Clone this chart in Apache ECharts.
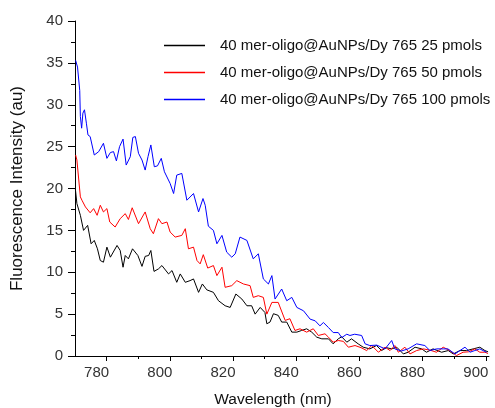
<!DOCTYPE html>
<html>
<head>
<meta charset="utf-8">
<script src="https://cdn.jsdelivr.net/npm/echarts@6/dist/echarts.min.js"></script>
<style>
html,body{margin:0;padding:0;background:#fff;}
#chart{width:495px;height:408px;}
</style>
</head>
<body>
<div id="chart"></div>
<script>
// ---- data ----
const seriesNames = [
  '40 mer-oligo@AuNPs/Dy 765 25 pmols',
  '40 mer-oligo@AuNPs/Dy 765 50 pmols',
  '40 mer-oligo@AuNPs/Dy 765 100 pmols'
];
const xMajorTicks = [780, 800, 820, 840, 860, 880, 900];
const xMinorTicks = [790, 810, 830, 850, 870, 890];

const blackX = [770.1,770.6,771.7,772.7,774.0,775.1,776.1,777.1,778.0,779.0,780.1,781.2,783.3,784.3,785.2,785.9,786.9,788.2,789.9,791.2,792.2,793.3,794.0,795.0,796.4,797.5,798.0,799.6,800.7,802.2,803.3,804.9,806.4,807.5,809.1,810.3,811.7,813.8,815.4,817.5,819.1,820.9,822.8,824.4,825.9,827.0,828.6,830.1,830.7,831.7,832.8,834.3,835.4,837.0,838.6,840.2,841.7,843.3,844.9,846.5,848.1,850.2,851.7,853.3,854.4,856.0,857.5,859.6,861.2,863.3,865.4,867.0,868.5,870.2,871.8,873.9,875.4,877.6,879.7,881.2,883.3,886.0,888.1,889.7,891.8,893.9,896.0,898.1,899.7,900.7];
const blackY = [20.0,18.2,16.8,15.0,15.6,13.4,13.8,12.8,11.4,11.2,13.0,11.8,13.2,12.6,10.6,12.0,11.6,12.8,12.0,10.7,11.9,12.0,12.6,10.1,10.4,10.8,10.6,9.8,10.2,8.8,9.8,8.8,9.0,9.2,7.6,8.6,7.9,7.6,6.6,6.0,5.8,7.4,6.8,6.0,6.0,5.0,5.8,5.2,3.85,4.05,5.05,4.85,4.05,4.05,2.85,2.85,3.05,3.25,2.85,2.25,2.05,2.05,1.45,2.05,2.3,1.65,2.05,1.45,1.05,0.85,1.25,0.65,1.0,0.85,1.05,0.25,0.45,1.05,0.85,0.45,0.85,0.45,0.65,0.25,0.65,0.65,0.85,1.05,0.65,0.5];

const redX = [770.2,770.6,771.7,772.2,773.3,774.8,775.9,777.0,778.0,779.0,780.1,781.0,782.7,784.3,785.9,786.9,788.1,790.1,792.2,793.8,794.8,796.4,797.5,799.1,800.1,801.7,803.8,804.9,805.9,807.5,808.6,809.6,810.6,812.0,813.8,814.9,816.5,817.5,819.6,821.2,823.3,825.4,826.4,828.0,829.6,830.7,832.3,834.3,836.5,838.0,839.6,841.2,843.3,845.4,847.0,849.1,850.2,851.7,853.3,854.9,856.5,858.6,860.5,862.3,863.9,866.0,868.1,869.7,871.2,872.3,874.4,876.0,878.1,880.2,882.3,884.4,886.5,888.6,890.7,892.8,894.5,896.5,898.1,899.7,900.7];
const redY = [24.0,23.4,19.0,18.6,17.8,17.1,17.6,16.8,18.0,17.2,17.6,16.0,15.4,16.4,17.0,16.3,17.7,15.8,17.2,15.2,14.6,16.4,15.8,16.0,14.8,14.2,14.4,15.2,12.8,13.0,11.4,11.0,12.1,10.5,10.8,9.6,10.6,8.2,8.4,9.0,8.6,8.4,7.0,7.2,7.0,5.0,6.4,6.4,4.25,4.45,3.05,3.25,2.85,3.25,2.45,2.65,2.25,1.65,1.85,1.75,1.05,1.25,1.0,0.65,1.25,0.45,1.05,0.65,1.25,0.45,1.05,0.25,0.65,0.85,0.7,0.45,1.05,0.65,0.05,0.45,0.5,0.85,0.45,0.45,0.3];

const blueX = [770.2,770.8,771.5,771.7,772.1,772.5,773.0,773.6,774.1,774.8,776.1,777.5,779.0,780.1,781.2,782.2,783.1,784.1,785.2,786.2,787.5,788.3,789.1,790.1,791.2,792.2,793.1,794.0,795.1,796.1,797.3,798.3,800.1,801.2,802.2,803.8,805.4,807.5,809.1,810.5,811.2,812.2,813.8,814.9,816.5,818.0,819.6,820.7,822.2,824.4,826.4,828.0,829.6,831.2,832.3,833.3,835.4,837.0,838.6,840.2,842.3,844.4,846.0,847.5,848.6,850.2,851.7,853.3,854.4,856.0,857.0,858.5,860.7,861.8,863.3,865.5,868.1,870.2,871.2,873.3,875.4,878.1,880.7,882.3,884.4,886.5,888.0,890.2,891.8,893.4,895.0,896.5,898.1,899.1,900.2];
const blueY = [35.3,34.5,31.7,28.6,27.2,29.0,29.4,27.8,26.4,26.2,24.0,24.4,25.4,23.6,24.3,24.4,23.3,25.0,25.9,22.8,23.8,26.1,26.2,24.2,23.4,22.2,23.8,25.2,22.6,22.7,23.6,22.0,20.6,19.4,21.6,21.8,18.6,19.4,17.2,18.8,18.0,15.5,15.0,13.4,14.4,12.4,11.8,12.2,14.2,13.8,11.6,12.2,9.2,8.6,9.6,6.8,8.0,6.6,7.0,5.8,5.4,4.4,4.2,3.6,4.0,3.4,2.8,2.8,2.2,2.6,2.45,2.6,2.45,1.45,1.25,1.3,0.85,1.85,0.85,0.6,0.85,1.45,1.25,0.65,0.85,0.85,0.85,0.25,0.65,1.05,0.45,0.65,0.85,0.65,0.45];

const seriesColors = ['#000000', '#ff0000', '#0000ff'];

function zip(xs, ys) { return xs.map((x, i) => [x, ys[i]]); }

const FONT = '"Liberation Sans", Arial, sans-serif';
const chart = echarts.init(document.getElementById('chart'), null, {renderer: 'canvas'});

const dataSets = [zip(blackX, blackY), zip(redX, redY), zip(blueX, blueY)];

chart.setOption({
  animation: false,
  backgroundColor: '#ffffff',
  grid: {left: 75, right: 6, top: 21, bottom: 52, containLabel: false, outerBoundsMode: 'none'},
  legend: {
    orient: 'vertical',
    left: 159,
    top: 33,
    icon: 'rect',
    itemWidth: 41,
    itemHeight: 1.5,
    itemGap: 12,
    data: seriesNames.map((n, i) => ({
      name: n,
      itemStyle: {color: seriesColors[i], opacity: 1}
    })),
    textStyle: {fontFamily: FONT, fontSize: 15, lineHeight: 15, color: '#111', padding: [0, 0, 0, 10]}
  },
  xAxis: [{
    type: 'value',
    min: 770,
    max: 901,
    name: 'Wavelength (nm)',
    nameLocation: 'middle',
    nameGap: 36,
    nameTextStyle: {fontFamily: FONT, fontSize: 15.5, color: '#111', padding: [0, 18, 0, 0]},
    axisLine: {show: true, onZero: false, lineStyle: {color: '#000', width: 1}},
    axisTick: {show: true, length: 5, customValues: xMajorTicks, lineStyle: {color: '#000'}},
    axisLabel: {customValues: xMajorTicks, margin: 9, fontFamily: FONT, fontSize: 15, color: '#333', padding: [0, 20, 0, 0]},
    splitLine: {show: false}
  }, {
    type: 'value',
    min: 770,
    max: 901,
    position: 'bottom',
    axisLine: {show: false},
    axisTick: {show: true, length: 3, customValues: xMinorTicks, lineStyle: {color: '#000'}},
    axisLabel: {show: false},
    splitLine: {show: false}
  }],
  yAxis: {
    type: 'value',
    min: 0,
    max: 40,
    interval: 5,
    name: 'Fluorescence Intensity (au)',
    nameLocation: 'middle',
    nameGap: 49,
    nameTextStyle: {fontFamily: FONT, fontSize: 17, color: '#111'},
    axisLine: {show: true, onZero: false, lineStyle: {color: '#000', width: 1}},
    axisTick: {show: true, length: 7, lineStyle: {color: '#000'}},
    minorTick: {show: true, splitNumber: 2, length: 4, lineStyle: {color: '#000'}},
    axisLabel: {margin: 12, fontFamily: FONT, fontSize: 15, color: '#333'},
    splitLine: {show: false},
    minorSplitLine: {show: false}
  },
  series: dataSets.map((d, i) => ({
    name: seriesNames[i],
    type: 'line',
    xAxisIndex: 0,
    data: d,
    symbol: 'none',
    color: seriesColors[i],
    lineStyle: {color: seriesColors[i], width: 1},
    itemStyle: {color: seriesColors[i]}
  }))
});
</script>
</body>
</html>
